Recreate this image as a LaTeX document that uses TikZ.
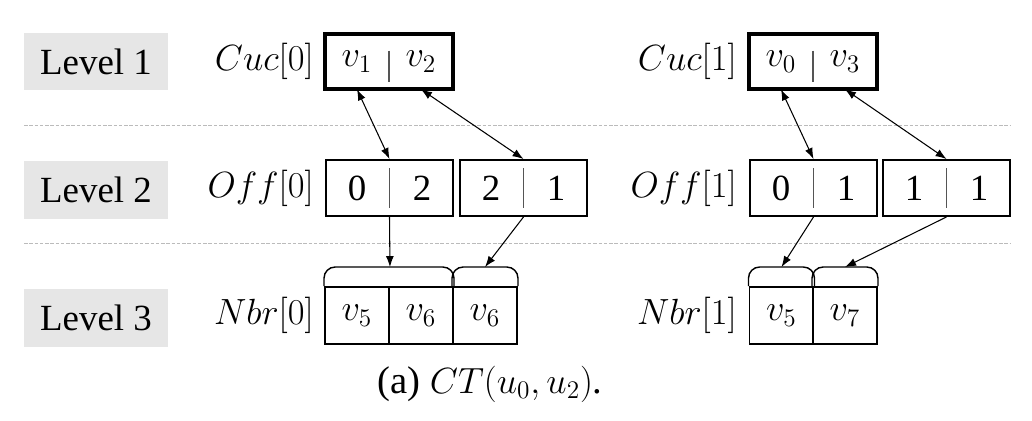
\documentclass[tikz,border=0pt]{standalone}
\usepackage{fontspec}
\setmainfont{Liberation Serif}
\usepackage{tikz}
\usetikzlibrary{arrows.meta,positioning}
\definecolor{lvgray}{HTML}{E6E6E6}
\definecolor{sepgray}{HTML}{BBBBBB}
\definecolor{bargray}{HTML}{555555}
\newcommand{\figfont}{\fontsize{21}{25}\selectfont}
\newcommand{\capfont}{\fontsize{22}{26}\selectfont}
\tikzset{
  levelbox/.style={
    rectangle, fill=lvgray, inner sep=0pt,
    minimum width=2.88cm, minimum height=1.16cm, font=\figfont
  },
  namelabel/.style={
    anchor=east, inner sep=0pt, font=\figfont
  },
  cucbox/.style={
    rectangle, draw, line width=2.3pt,
    minimum width=2.56cm, minimum height=1.1cm
  },
  offbox/.style={
    rectangle, draw, line width=1.1pt,
    minimum width=2.54cm, minimum height=1.12cm
  },
  halfcell/.style={
    rectangle, inner sep=0pt,
    minimum width=1.28cm, minimum height=1.1cm, font=\figfont
  },
  nbrcell/.style={
    rectangle, draw, line width=1.1pt, inner sep=0pt,
    minimum width=1.28cm, minimum height=1.14cm, font=\figfont
  },
  bracket/.style={line width=0.8pt, rounded corners=0.22cm},
  bar/.style={draw=bargray, line width=0.8pt},
  sepline/.style={sepgray, line width=0.5pt, dash pattern=on 2pt off 1pt},
  ptrarrow/.style={
    -{Latex[length=2.2mm,width=1.6mm]}, line width=0.6pt
  },
  linkarrow/.style={
    {Latex[length=2.2mm,width=1.6mm]}-{Latex[length=2.2mm,width=1.6mm]},
    line width=0.6pt
  },
}

\begin{document}
\begin{tikzpicture}[x=0.02cm, y=-0.02cm]
  \useasboundingbox (0,0) rectangle (1032,420);

  % Level labels
  \node[levelbox] (lv1) at (96,61.5) {Level 1};
  \node[levelbox] (lv2) at (96,190) {Level 2};
  \node[levelbox] (lv3) at (96,318) {Level 3};

  % Separators
  \draw[sepline] (24,125) -- (1010,125);
  \draw[sepline] (24,243) -- (1010,243);

  % Level 1: candidates
  \node[namelabel] (cucname0) at (314,61.5) {$Cuc[0]$};
  \node[cucbox] (cuc0) at (389,61.5) {};
  \node[halfcell] (c0a) at (357,61.5) {$v_1$};
  \node[halfcell] (c0b) at (421,61.5) {$v_2$};
  \draw[bar] ([yshift=0.22cm]cuc0.center) -- ([yshift=-0.42cm]cuc0.center);

  \node[namelabel] (cucname1) at (737,61.5) {$Cuc[1]$};
  \node[cucbox] (cuc1) at (813,61.5) {};
  \node[halfcell] (c1a) at (781,61.5) {$v_0$};
  \node[halfcell] (c1b) at (845,61.5) {$v_3$};
  \draw[bar] ([yshift=0.22cm]cuc1.center) -- ([yshift=-0.42cm]cuc1.center);

  % Level 2: offsets
  \node[namelabel] (offname0) at (314,188) {$Off[0]$};
  \node[offbox] (o0a) at (389.5,188) {};
  \node[offbox] (o0b) at (523.5,188) {};
  \node[halfcell] at (357,188) {0};
  \node[halfcell] at (422,188) {2};
  \node[halfcell] at (491,188) {2};
  \node[halfcell] at (556,188) {1};
  \draw[bar] ([yshift=0.4cm]o0a.center) -- ([yshift=-0.4cm]o0a.center);
  \draw[bar] ([yshift=0.4cm]o0b.center) -- ([yshift=-0.4cm]o0b.center);

  \node[namelabel] (offname1) at (737,188) {$Off[1]$};
  \node[offbox] (o1a) at (813.5,188) {};
  \node[offbox] (o1b) at (946.5,188) {};
  \node[halfcell] at (781,188) {0};
  \node[halfcell] at (846,188) {1};
  \node[halfcell] at (914,188) {1};
  \node[halfcell] at (979,188) {1};
  \draw[bar] ([yshift=0.4cm]o1a.center) -- ([yshift=-0.4cm]o1a.center);
  \draw[bar] ([yshift=0.4cm]o1b.center) -- ([yshift=-0.4cm]o1b.center);

  % Level 3: neighbours
  \node[namelabel] (nbrname0) at (314,315.5) {$Nbr[0]$};
  \node[nbrcell] (n0a) at (357,315.5) {$v_5$};
  \node[nbrcell] (n0b) at (421,315.5) {$v_6$};
  \node[nbrcell] (n0c) at (485,315.5) {$v_6$};

  \node[namelabel] (nbrname1) at (737,315.5) {$Nbr[1]$};
  \node[nbrcell] (n1a) at (781.5,315.5) {$v_5$};
  \node[nbrcell] (n1b) at (845,315.5) {$v_7$};

  % Brackets over the neighbour runs
  \draw[bracket] (n0a.north west) -- ++(0,-19) -| (n0b.north east);
  \draw[bracket] (n0c.north west) -- ++(0,-19) -| (n0c.north east);
  \draw[bracket] (n1a.north west) -- ++(0,-19) -| (n1a.north east);
  \draw[bracket] (n1b.north west) -- ++(0,-19) -| (n1b.north east);
  \coordinate (br0a) at ([yshift=0.38cm]n0a.north east);
  \coordinate (br0b) at ([yshift=0.38cm]n0c.north);
  \coordinate (br1a) at ([yshift=0.38cm]n1a.north);
  \coordinate (br1b) at ([yshift=0.38cm]n1b.north);

  % Links
  \draw[linkarrow] (c0a.south) -- (o0a.north);
  \draw[linkarrow] (c0b.south) -- (o0b.north);
  \draw[linkarrow] (c1a.south) -- (o1a.north);
  \draw[linkarrow] (c1b.south) -- (o1b.north);
  \draw[ptrarrow] (o0a.south) -- (br0a);
  \draw[ptrarrow] (o0b.south) -- (br0b);
  \draw[ptrarrow] (o1a.south) -- (br1a);
  \draw[ptrarrow] (o1b.south) -- (br1b);

  % Caption
  \node[font=\capfont] (caption) at (490,384) {(a) $CT(u_0,u_2)$.};
\end{tikzpicture}
\end{document}
